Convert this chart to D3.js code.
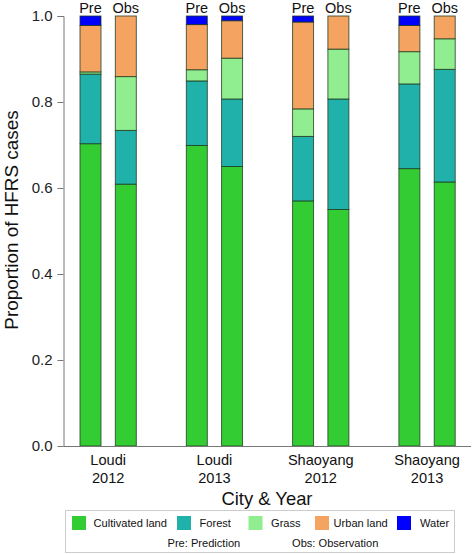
<!DOCTYPE html>
<html><head><meta charset="utf-8">
<script src="https://cdn.jsdelivr.net/npm/d3@7"></script>
<style>body{margin:0;background:#fff;} svg{display:block;font-family:"Liberation Sans",Arial,sans-serif;}</style>
</head><body>
<svg id="chart" width="472" height="554"></svg>
<script>
const groups = ["Loudi|2012", "Loudi|2013", "Shaoyang|2012", "Shaoyang|2013"];
const kinds = ["Pre", "Obs"];
const landTypes = ["Cultivated land", "Forest", "Grass", "Urban land", "Water"];
const colors = ["#33CC33", "#20B2AA", "#90EE90", "#F4A460", "#0000FF"];
// order of bars: Loudi2012 Pre, Obs, Loudi2013 Pre, Obs, Shaoyang2012 Pre, Obs, Shaoyang2013 Pre, Obs
const cultivated = [0.703, 0.609, 0.699, 0.650, 0.570, 0.550, 0.645, 0.614];
const forest     = [0.162, 0.125, 0.150, 0.157, 0.150, 0.257, 0.197, 0.262];
const grass      = [0.005, 0.125, 0.026, 0.095, 0.064, 0.116, 0.075, 0.071];
const urban      = [0.108, 0.141, 0.105, 0.087, 0.202, 0.077, 0.061, 0.053];
const water      = [0.022, 0.000, 0.020, 0.011, 0.014, 0.000, 0.022, 0.000];
const yTicks = [0, 0.2, 0.4, 0.6, 0.8, 1.0];

const series = [cultivated, forest, grass, urban, water];
const bars = [];
groups.forEach((g, gi) => kinds.forEach((k, ki) => bars.push({group: g, kind: k, idx: gi * 2 + ki})));
const rows = bars.map(b => {
  const r = {id: b.group + "|" + b.kind, group: b.group, kind: b.kind};
  landTypes.forEach((t, ti) => r[t] = series[ti][b.idx]);
  return r;
});

const svg = d3.select("#chart");
const y = d3.scaleLinear().domain([0, 1]).range([446, 16]);
const xGroup = d3.scaleBand().domain(groups).range([63.5, 63.5 + 4 * 106.3]).paddingInner(0).paddingOuter(0);
const xInner = d3.scaleBand().domain(kinds).range([16.5, 16.5 + 56.3]).paddingInner(0.405).paddingOuter(0);

const stack = d3.stack().keys(landTypes)(rows);
const color = d3.scaleOrdinal().domain(landTypes).range(colors);

svg.append("g").selectAll("g").data(stack).join("g")
  .attr("fill", d => color(d.key))
  .selectAll("rect").data(d => d.filter(p => p[1] - p[0] > 0)).join("rect")
  .attr("x", d => xGroup(d.data.group) + xInner(d.data.kind))
  .attr("width", xInner.bandwidth())
  .attr("y", d => y(d[1]))
  .attr("height", d => y(d[0]) - y(d[1]))
  .attr("stroke", "#1f3a1f").attr("stroke-width", 0.9).attr("stroke-opacity", 0.85);

// Pre / Obs labels
svg.append("g").selectAll("text").data(rows).join("text")
  .attr("x", d => xGroup(d.group) + xInner(d.kind) + xInner.bandwidth() / 2)
  .attr("y", 13).attr("text-anchor", "middle").attr("font-size", 14.5).attr("fill", "#111")
  .text(d => d.kind);

// y axis
const yAxis = svg.append("g").attr("transform", "translate(63.5,0)")
  .call(d3.axisLeft(y).tickValues(yTicks).tickFormat(d3.format(".1f")).tickSize(6).tickPadding(5));
yAxis.selectAll("line, path").attr("stroke", "#777");
yAxis.selectAll("text").attr("font-size", 15).attr("fill", "#222").attr("font-family", "Liberation Sans, Arial, sans-serif");
yAxis.select(".domain").attr("d", "M-6,16.5H0.5V446.5");

// x baseline
svg.append("line").attr("x1", 63.5).attr("x2", 471).attr("y1", 446.5).attr("y2", 446.5).attr("stroke", "#777");

// x labels
const xl = svg.append("g").selectAll("text").data(groups).join("text")
  .attr("text-anchor", "middle").attr("font-size", 14.6).attr("fill", "#111")
  .attr("transform", d => `translate(${xGroup(d) + xInner("Pre") + (xInner("Obs") + xInner.bandwidth() - xInner("Pre")) / 2},0)`);
xl.append("tspan").attr("x", 0).attr("y", 464.5).text(d => d.split("|")[0]);
xl.append("tspan").attr("x", 0).attr("y", 482.5).text(d => d.split("|")[1]);

svg.append("text").attr("x", 267).attr("y", 504.5).attr("text-anchor", "middle")
  .attr("font-size", 18.4).attr("fill", "#111").text("City & Year");
svg.append("text").attr("transform", "translate(18,220) rotate(-90)").attr("text-anchor", "middle")
  .attr("font-size", 18.9).attr("fill", "#111").text("Proportion of HFRS cases");

// legend
const lg = svg.append("g");
lg.append("rect").attr("x", 65.5).attr("y", 510.5).attr("width", 389).attr("height", 42)
  .attr("fill", "#fff").attr("stroke", "#ccc");
const legX = [72, 177, 248.5, 315, 397];
const legTX = [93.5, 199.5, 271, 333.5, 420];
landTypes.forEach((t, i) => {
  lg.append("rect").attr("x", legX[i]).attr("y", 516).attr("width", 14).attr("height", 14).attr("fill", colors[i]);
  lg.append("text").attr("x", legTX[i]).attr("y", 527).attr("font-size", 11.1).attr("fill", "#111").text(t);
});
lg.append("text").attr("x", 167.5).attr("y", 547).attr("font-size", 11.1).attr("fill", "#111").text("Pre: Prediction");
lg.append("text").attr("x", 292).attr("y", 547).attr("font-size", 11.1).attr("fill", "#111").text("Obs: Observation");
</script>
</body></html>
